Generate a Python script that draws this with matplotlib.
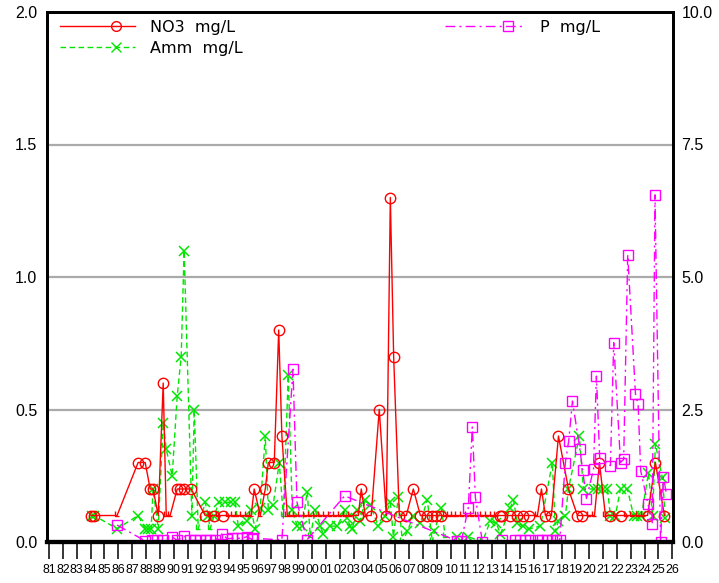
import numpy as np
import matplotlib
matplotlib.use("Agg")
import matplotlib.pyplot as plt
from matplotlib.path import Path
from matplotlib.lines import Line2D
from matplotlib.legend_handler import HandlerLine2DCompound

# ---------------- data ----------------
no3_year = [1984.03, 1984.25, 1985.91, 1987.43, 1987.94, 1988.30, 1988.51, 1988.88, 1989.24, 1989.46,
            1989.74, 1990.25, 1990.46, 1990.75, 1991.26, 1992.27, 1992.63, 1992.92, 1993.21, 1993.57,
            1993.93, 1994.29, 1994.58, 1994.94, 1995.31, 1995.59, 1995.81, 1996.25, 1996.61, 1996.83,
            1997.26, 1997.58, 1997.81, 1998.20, 1998.49, 1998.78, 1999.13, 1999.50, 1999.86, 2000.22,
            2000.58, 2000.94, 2001.30, 2001.67, 2002.03, 2002.39, 2002.75, 2003.33, 2003.54, 2003.83,
            2004.26, 2004.84, 2005.35, 2005.64, 2005.88, 2006.29, 2006.79, 2007.30, 2007.81, 2008.31,
            2008.67, 2008.96, 2009.32, 2009.61, 2009.90, 2010.19, 2010.48, 2010.84, 2011.20, 2011.56,
            2011.92, 2012.29, 2012.65, 2013.01, 2013.30, 2013.59, 2013.73, 2014.31, 2014.82, 2015.25,
            2015.68, 2016.26, 2016.55, 2016.84, 2017.27, 2017.78, 2018.50, 2019.15, 2019.51, 2019.95,
            2020.38, 2020.74, 2021.17, 2021.53, 2021.89, 2022.26, 2022.69, 2023.12, 2023.55, 2023.91,
            2024.21, 2024.78, 2025.43]
no3_val = [0.1, 0.1, 0.1, 0.3, 0.3, 0.2, 0.2, 0.1, 0.6, 0.1,
           0.1, 0.2, 0.2, 0.2, 0.2, 0.1, 0.1, 0.1, 0.1, 0.1,
           0.1, 0.1, 0.1, 0.1, 0.1, 0.1, 0.2, 0.1, 0.2, 0.3,
           0.3, 0.8, 0.4, 0.1, 0.1, 0.1, 0.1, 0.1, 0.1, 0.1,
           0.1, 0.1, 0.1, 0.1, 0.1, 0.1, 0.1, 0.1, 0.2, 0.1,
           0.1, 0.5, 0.1, 1.3, 0.7, 0.1, 0.1, 0.2, 0.1, 0.1,
           0.1, 0.1, 0.1, 0.1, 0.1, 0.1, 0.1, 0.1, 0.1, 0.1,
           0.1, 0.1, 0.1, 0.1, 0.1, 0.1, 0.1, 0.1, 0.1, 0.1,
           0.1, 0.1, 0.2, 0.1, 0.1, 0.4, 0.2, 0.1, 0.1, 0.1,
           0.1, 0.3, 0.1, 0.1, 0.1, 0.1, 0.1, 0.1, 0.1, 0.1,
           0.1, 0.3, 0.1]
# 1 = reported as below detection limit ("L" symbol)
no3_lt = [0, 0, 1, 0, 0, 0, 0, 0, 0, 1,
          1, 0, 0, 0, 0, 0, 1, 0, 1, 0,
          1, 1, 1, 1, 1, 1, 0, 1, 0, 0,
          0, 0, 0, 1, 1, 1, 1, 1, 1, 1,
          1, 1, 1, 1, 1, 1, 1, 0, 0, 1,
          0, 0, 0, 0, 0, 0, 0, 0, 0, 0,
          0, 0, 0, 1, 1, 1, 1, 1, 1, 1,
          1, 1, 1, 1, 1, 0, 0, 0, 0, 0,
          0, 1, 0, 0, 0, 0, 0, 0, 0, 1,
          1, 0, 1, 0, 1, 0, 1, 1, 1, 1,
          0, 0, 0]

amm_year = [1984.11, 1984.25, 1985.91, 1987.43, 1987.94, 1988.15, 1988.37, 1988.51, 1988.88, 1989.24,
            1989.46, 1989.89, 1990.25, 1990.54, 1990.75, 1991.31, 1991.48, 1991.77, 1992.27, 1992.49,
            1992.63, 1992.92, 1993.28, 1993.72, 1994.15, 1994.44, 1994.66, 1995.31, 1995.59, 1995.88,
            1996.25, 1996.61, 1996.83, 1997.18, 1997.62, 1997.91, 1998.27, 1998.56, 1998.92, 1999.28,
            1999.64, 1999.86, 2000.22, 2000.58, 2000.80, 2001.30, 2001.81, 2002.39, 2002.53, 2002.75,
            2002.89, 2003.25, 2003.47, 2003.83, 2004.19, 2004.77, 2005.28, 2005.64, 2005.86, 2006.22,
            2006.51, 2006.87, 2007.30, 2007.81, 2008.31, 2008.67, 2008.82, 2009.32, 2009.61, 2010.48,
            2011.27, 2012.29, 2012.86, 2013.30, 2013.59, 2014.31, 2014.53, 2014.82, 2015.25, 2015.68,
            2016.48, 2017.34, 2017.56, 2017.78, 2018.28, 2018.50, 2019.29, 2019.58, 2020.31, 2020.60,
            2020.96, 2021.32, 2021.53, 2021.89, 2022.26, 2022.76, 2023.20, 2023.48, 2023.77, 2024.28,
            2024.57, 2024.78, 2025.29, 2025.50]
amm_val = [0.1, 0.1, 0.05, 0.1, 0.05, 0.05, 0.05, 0.2, 0.05, 0.45,
           0.35, 0.25, 0.55, 0.7, 1.1, 0.1, 0.5, 0.05, 0.15, 0.1,
           0.05, 0.1, 0.15, 0.15, 0.15, 0.15, 0.06, 0.08, 0.12, 0.05,
           0.13, 0.4, 0.12, 0.14, 0.3, 0.1, 0.63, 0.12, 0.06, 0.06,
           0.19, 0.02, 0.12, 0.06, 0.03, 0.06, 0.06, 0.12, 0.09, 0.06,
           0.05, 0.12, 0.08, 0.16, 0.14, 0.06, 0.1, 0.15, 0.02, 0.17,
           0.0, 0.04, 0.1, 0.07, 0.16, 0.0, 0.04, 0.13, 0.02, 0.02,
           0.02, 0.0, 0.08, 0.07, 0.03, 0.13, 0.16, 0.07, 0.06, 0.05,
           0.06, 0.3, 0.04, 0.08, 0.1, 0.2, 0.4, 0.2, 0.2, 0.2,
           0.2, 0.2, 0.1, 0.1, 0.2, 0.2, 0.1, 0.1, 0.1, 0.26,
           0.1, 0.37, 0.24, 0.09]
amm_lt = [0, 0, 0, 0, 0, 0, 0, 0, 0, 0,
          0, 0, 0, 0, 0, 0, 0, 1, 0, 0,
          1, 0, 0, 0, 0, 0, 0, 0, 0, 0,
          0, 0, 0, 0, 0, 1, 0, 0, 0, 0,
          0, 1, 0, 0, 0, 0, 0, 0, 0, 0,
          0, 0, 0, 0, 0, 0, 0, 0, 0, 0,
          1, 0, 0, 0, 0, 1, 0, 0, 1, 0,
          0, 1, 0, 0, 0, 0, 0, 0, 0, 0,
          0, 0, 0, 0, 0, 0, 0, 0, 0, 0,
          0, 0, 0, 0, 0, 0, 0, 0, 0, 0,
          0, 0, 0, 0]

p_year = [1985.91, 1987.94, 1988.44, 1988.80, 1989.24, 1989.87, 1990.25, 1990.75, 1991.19, 1991.55,
          1991.91, 1992.34, 1992.63, 1992.99, 1993.52, 1993.84, 1994.20, 1994.56, 1994.92, 1995.28,
          1995.65, 1995.76, 1997.81, 1998.61, 1998.90, 1999.62, 2002.34, 2010.48, 2010.77, 2011.27,
          2011.56, 2011.78, 2012.29, 2013.73, 2014.67, 2015.03, 2015.39, 2015.75, 2016.33, 2016.62,
          2016.98, 2017.34, 2017.63, 2017.87, 2018.28, 2018.52, 2018.79, 2019.32, 2019.53, 2019.80,
          2020.31, 2020.52, 2020.76, 2021.53, 2021.77, 2022.26, 2022.49, 2022.78, 2023.34, 2023.53,
          2023.72, 2024.24, 2024.55, 2024.75, 2025.15, 2025.36, 2025.58]
p_val = [0.32, 0.02, 0.03, 0.03, 0.03, 0.10, 0.03, 0.11, 0.03, 0.03,
         0.03, 0.04, 0.03, 0.03, 0.16, 0.06, 0.07, 0.07, 0.07, 0.10,
         0.05, 0.07, 0.04, 3.26, 0.75, 0.04, 0.87, 0.02, 0.02, 0.65,
         2.17, 0.84, 0.00, 0.03, 0.03, 0.03, 0.03, 0.03, 0.03, 0.03,
         0.03, 0.03, 0.03, 0.03, 1.50, 1.91, 2.66, 1.76, 1.35, 0.82,
         1.37, 3.13, 1.58, 1.44, 3.76, 1.50, 1.56, 5.42, 2.79, 2.60,
         1.34, 0.72, 0.34, 6.55, 0.00, 1.22, 0.90]

year_ticks = list(range(1981, 2027))
tick_labels = [f"{y % 100:02d}" for y in year_ticks]
left_ticks = [0.0, 0.5, 1.0, 1.5, 2.0]
right_ticks = [0.0, 2.5, 5.0, 7.5, 10.0]

# ---------------- style ----------------
plt.rcParams["font.family"] = ["Liberation Sans", "DejaVu Sans"]
RED = "#ff0000"
GREEN = "#00e600"
MAG = "#ff00ff"

L_marker = Path([(-0.5, 1.0), (-0.5, 0.0), (0.5, 0.0)],
                [Path.MOVETO, Path.LINETO, Path.LINETO])


class EndMarkerHandler(HandlerLine2DCompound):
    def __init__(self, frac=0.75, **kw):
        super().__init__(**kw)
        self.frac = frac

    def get_xdata(self, legend, xdescent, ydescent, width, height, fontsize):
        xdata = np.array([-xdescent, -xdescent + width])
        return xdata, np.array([-xdescent + self.frac * width])


fig = plt.figure(figsize=(7.19, 5.83), dpi=100)
ax = fig.add_axes([47 / 719, 41 / 583, 626 / 719, 530 / 583])
ax2 = ax.twinx()

ax.set_xlim(1980.85, 2026.05)
ax.set_ylim(0, 2)
ax2.set_ylim(0, 10)

# gridlines
for v in left_ticks[1:-1]:
    ax.axhline(v, color="#aaaaaa", lw=1.6, zorder=0)


def split(xs, ys, flags):
    xs = np.asarray(xs); ys = np.asarray(ys); f = np.asarray(flags).astype(bool)
    return xs[~f], ys[~f], xs[f], ys[f]


# NO3
ax.plot(no3_year, no3_val, color=RED, lw=1.0, zorder=3)
xo, yo, xl, yl = split(no3_year, no3_val, no3_lt)
ax.plot(xo, yo, ls="none", marker="o", ms=7.5, mfc="none", mec=RED, mew=1.0, zorder=4)
ax.plot(xl, yl, ls="none", marker=L_marker, ms=7, mfc="none", mec=RED, mew=1.0, zorder=4)

# Ammonia
ax.plot(amm_year, amm_val, color=GREEN, lw=1.0, dashes=(4, 2.5), zorder=2)
xo, yo, xl, yl = split(amm_year, amm_val, amm_lt)
ax.plot(xo, yo, ls="none", marker="x", ms=7.5, mec=GREEN, mew=1.1, zorder=2)
ax.plot(xl, yl, ls="none", marker=L_marker, ms=7, mfc="none", mec=GREEN, mew=1.0, zorder=2)

# Phosphorus (right axis)
ax2.plot(p_year, p_val, color=MAG, lw=1.0, dashes=(7, 3, 1.5, 3),
         marker="s", ms=7, mfc="none", mec=MAG, mew=1.0)

# ticks
ax.set_xticks(year_ticks)
ax.set_xticklabels(tick_labels, fontsize=8.9)
ax.tick_params(axis="x", direction="out", length=12, width=1.1, pad=4, color="black")
ax.set_yticks(left_ticks)
ax.set_yticklabels([f"{v:.1f}" for v in left_ticks], fontsize=11.5)
ax.tick_params(axis="y", length=0, pad=7)
ax2.set_yticks(right_ticks)
ax2.set_yticklabels([f"{v:.1f}" for v in right_ticks], fontsize=11.5)
ax2.tick_params(axis="y", length=0, pad=6)

for a in (ax, ax2):
    for s in ("top", "left", "right"):
        a.spines[s].set_linewidth(2.0)
    a.spines["bottom"].set_linewidth(3.0)

# legends
leg_font = {"family": "DejaVu Sans", "size": 11.5}
h1 = Line2D([], [], color=RED, lw=1.0, marker="o", ms=7, mfc="none", mec=RED)
h2 = Line2D([], [], color=GREEN, lw=1.0, dashes=(4, 2.5), marker="x", ms=7, mec=GREEN)
h3 = Line2D([], [], color=MAG, lw=1.0, dashes=(7, 3, 1.5, 3), marker="s", ms=7, mfc="none", mec=MAG)

leg1 = ax2.legend([h1, h2], ["NO3  mg/L", "Amm  mg/L"], loc="upper left",
                  bbox_to_anchor=(0.021, 0.985), frameon=False, borderaxespad=0, borderpad=0,
                  handlelength=4.7, handletextpad=0.95, labelspacing=0.35, prop=leg_font,
                  handler_map={h1: EndMarkerHandler(0.75), h2: EndMarkerHandler(0.75)})
ax2.add_artist(leg1)
ax2.legend([h3], ["P  mg/L"], loc="upper left",
           bbox_to_anchor=(0.636, 0.985), frameon=False, borderaxespad=0, borderpad=0,
           handlelength=5.0, handletextpad=0.95, prop=leg_font,
           handler_map={h3: EndMarkerHandler(0.79)})

fig.savefig("out.png", dpi=100)
